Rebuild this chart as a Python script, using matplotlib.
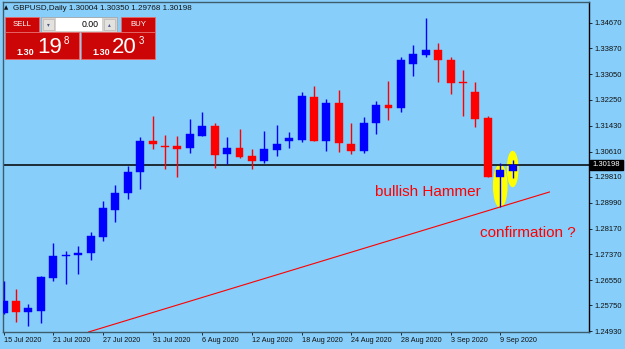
import matplotlib
matplotlib.use('Agg')
import matplotlib.pyplot as plt
import matplotlib.patches as mpatches
import numpy as np

plt.rcParams['font.family'] = ['Liberation Sans', 'DejaVu Sans']

# GBPUSD daily, 15 Jul 2020 .. 10 Sep 2020 (weekdays)
opens = [1.2551, 1.2589, 1.2554, 1.2558, 1.2662, 1.2730, 1.2733, 1.2741, 1.2791, 1.2877,
         1.2931, 1.2997, 1.3095, 1.3079, 1.3079, 1.3072, 1.3111, 1.3142, 1.3054, 1.3071,
         1.3047, 1.3032, 1.3066, 1.3093, 1.3099, 1.3233, 1.3095, 1.3213, 1.3085, 1.3062,
         1.3150, 1.3208, 1.3200, 1.3339, 1.3366, 1.3382, 1.3350, 1.3282, 1.3250, 1.3168,
         1.2982, 1.30004]
highs = [1.2652, 1.2627, 1.2580, 1.2668, 1.2772, 1.2747, 1.2763, 1.2807, 1.2905, 1.2955,
         1.3015, 1.3107, 1.3173, 1.3113, 1.3110, 1.3164, 1.3186, 1.3152, 1.3107, 1.3132,
         1.3069, 1.3126, 1.3145, 1.3123, 1.3249, 1.3268, 1.3227, 1.3255, 1.3150, 1.3171,
         1.3221, 1.3285, 1.3359, 1.3398, 1.3482, 1.3403, 1.3359, 1.3319, 1.3282, 1.3173,
         1.3024, 1.30350]
lows = [1.2548, 1.2523, 1.2510, 1.2520, 1.2652, 1.2643, 1.2674, 1.2719, 1.2779, 1.2839,
        1.2911, 1.2943, 1.3069, 1.3006, 1.2981, 1.3057, 1.3110, 1.3010, 1.3022, 1.3041,
        1.3006, 1.3026, 1.3047, 1.3073, 1.3092, 1.3093, 1.3064, 1.3060, 1.3054, 1.3057,
        1.3116, 1.3160, 1.3185, 1.3300, 1.3359, 1.3282, 1.3242, 1.3174, 1.3140, 1.2981,
        1.2887, 1.29768]
closes = [1.2589, 1.2554, 1.2567, 1.2665, 1.2731, 1.2734, 1.2741, 1.2794, 1.2883, 1.2930,
          1.2997, 1.3094, 1.3084, 1.3074, 1.3069, 1.3117, 1.3142, 1.3050, 1.3073, 1.3045,
          1.3032, 1.3069, 1.3086, 1.3103, 1.3237, 1.3095, 1.3213, 1.3087, 1.3062, 1.3152,
          1.3208, 1.3200, 1.3350, 1.3368, 1.3382, 1.3349, 1.3279, 1.3279, 1.3163, 1.2982,
          1.3003, 1.30198]

date_ticks = [0, 4, 8, 12, 16, 20, 24, 28, 32, 36, 40]
date_labels = ['15 Jul 2020', '21 Jul 2020', '27 Jul 2020', '31 Jul 2020', '6 Aug 2020',
               '12 Aug 2020', '18 Aug 2020', '24 Aug 2020', '28 Aug 2020', '3 Sep 2020',
               '9 Sep 2020']
price_ticks = [1.34670, 1.33870, 1.33050, 1.32250, 1.31430, 1.30610, 1.29810,
               1.28990, 1.28170, 1.27370, 1.26550, 1.25750, 1.24930]

last_price = 1.30198
trend_x = [6.84, 43.96]
trend_y = [1.24912, 1.29333]
hammer_idx = 40
confirm_idx = 41

bg = '#87cefa'
fig = plt.figure(figsize=(6.25, 3.49), dpi=100, facecolor=bg)
ax = fig.add_axes([3 / 625, 1 - 332 / 349, 586 / 625, 330 / 349], facecolor=bg)

o = np.array(opens); h = np.array(highs); l = np.array(lows); c = np.array(closes)
x = np.arange(len(o))
up = c >= o
cols = np.where(up, '#0000ff', '#ff0000')

# yellow highlight ellipses behind the two last candles
ax.add_patch(mpatches.Ellipse((hammer_idx, 1.29523), 1.07, 0.01326, color='#ffff00', zorder=1))
ax.add_patch(mpatches.Ellipse((confirm_idx, 1.30059), 0.83, 0.01105, color='#ffff00', zorder=1))

ax.axhline(last_price, color='black', lw=1.1, zorder=2)
ax.plot(trend_x, trend_y, color='#ff0000', lw=0.8, zorder=2)

ax.vlines(x, l, h, colors=cols, lw=1.0, zorder=3)
body_lo = np.minimum(o, c)
body_h = np.maximum(np.abs(c - o), 0.00028)
ax.bar(x, body_h, bottom=body_lo, width=0.64, color=cols, edgecolor=cols, lw=0.3, zorder=4)

ax.set_xlim(-0.05, 47.15)
ax.set_ylim(1.24912, 1.35333)

ax.yaxis.tick_right()
ax.set_yticks(price_ticks)
ax.set_yticklabels(['%.5f' % p for p in price_ticks])
ax.tick_params(axis='y', right=True, left=False, length=2.5, width=0.6, pad=1.5,
               labelsize=5.5, colors='#111111')
ax.set_xticks(date_ticks)
ax.set_xticklabels(date_labels)
ax.tick_params(axis='x', length=2.5, width=0.6, pad=1.0, labelsize=5.2, colors='#111111')
for lab in ax.get_xticklabels():
    lab.set_ha('left')

for side in ['left', 'bottom', 'top']:
    ax.spines[side].set_color('#3d5c6c')
    ax.spines[side].set_linewidth(1.0)
ax.spines['right'].set_color('black')
ax.spines['right'].set_linewidth(1.0)

# overlay in pixel coordinates (y down) for annotations and terminal widgets
ov = fig.add_axes([0, 0, 1, 1], facecolor='none')
ov.set_xlim(0, 625)
ov.set_ylim(349, 0)
ov.axis('off')

ov.text(375, 192, 'bullish Hammer', color='#ff0000', fontsize=11, va='center', ha='left')
ov.text(480, 233, 'confirmation ?', color='#ff0000', fontsize=11, va='center', ha='left')

# current price label
ov.add_patch(mpatches.Rectangle((590, 159.5), 33, 10, color='black'))
ov.text(606.5, 164.6, '%.5f' % last_price, color='white', fontsize=5.5, ha='center', va='center')

ov.text(4, 8, '\u25b2', fontsize=4, color='#111111', va='center', ha='left',
        family=['DejaVu Sans'])
ov.text(13, 8, 'GBPUSD,Daily %.5f %.5f %.5f %.5f' % (opens[-1], highs[-1], lows[-1], closes[-1]),
        fontsize=5.8, color='#111111', va='center', ha='left')

red = '#cc0606'
edge = '#e86a6a'
ov.add_patch(mpatches.Rectangle((5, 17), 34, 15, facecolor=red, edgecolor=edge, lw=0.6))
ov.add_patch(mpatches.Rectangle((121, 17), 34, 15, facecolor=red, edgecolor=edge, lw=0.6))
ov.text(22, 24.5, 'SELL', color='white', fontsize=5.6, ha='center', va='center')
ov.text(138, 24.5, 'BUY', color='white', fontsize=5.6, ha='center', va='center')
ov.add_patch(mpatches.Rectangle((41, 17), 76, 15, facecolor='#d6d3ce', edgecolor='#a0a0a0', lw=0.5))
ov.add_patch(mpatches.Rectangle((56, 18), 46, 13, facecolor='white', edgecolor='none'))
ov.add_patch(mpatches.Rectangle((43, 19), 11, 11, facecolor='#e4e2de', edgecolor='#b0b0b0', lw=0.4))
ov.add_patch(mpatches.Rectangle((104, 19), 11, 11, facecolor='#e4e2de', edgecolor='#b0b0b0', lw=0.4))
ov.text(48.5, 24.5, '\u25be', fontsize=4, color='#4a5a8a', ha='center', va='center', family=['DejaVu Sans'])
ov.text(109.5, 24.5, '\u25b4', fontsize=4, color='#4a5a8a', ha='center', va='center', family=['DejaVu Sans'])
ov.text(99, 24.5, '0.00', fontsize=6.3, color='black', ha='right', va='center')

ov.add_patch(mpatches.Rectangle((5, 32), 74, 27, facecolor=red, edgecolor=edge, lw=0.6))
ov.add_patch(mpatches.Rectangle((81, 32), 74, 27, facecolor=red, edgecolor=edge, lw=0.6))
ov.text(16, 52.5, '1.30', fontsize=6.5, color='white', ha='left', va='center', weight='bold')
ov.text(37, 47.5, '19', fontsize=16, color='white', ha='left', va='center')
ov.text(64, 40.5, '8', fontsize=7, color='white', ha='left', va='center')
ov.text(92, 52.5, '1.30', fontsize=6.5, color='white', ha='left', va='center', weight='bold')
ov.text(112, 47.5, '20', fontsize=16, color='white', ha='left', va='center')
ov.text(139, 40.5, '3', fontsize=7, color='white', ha='left', va='center')

fig.savefig('out.png', dpi=100, facecolor=bg)
